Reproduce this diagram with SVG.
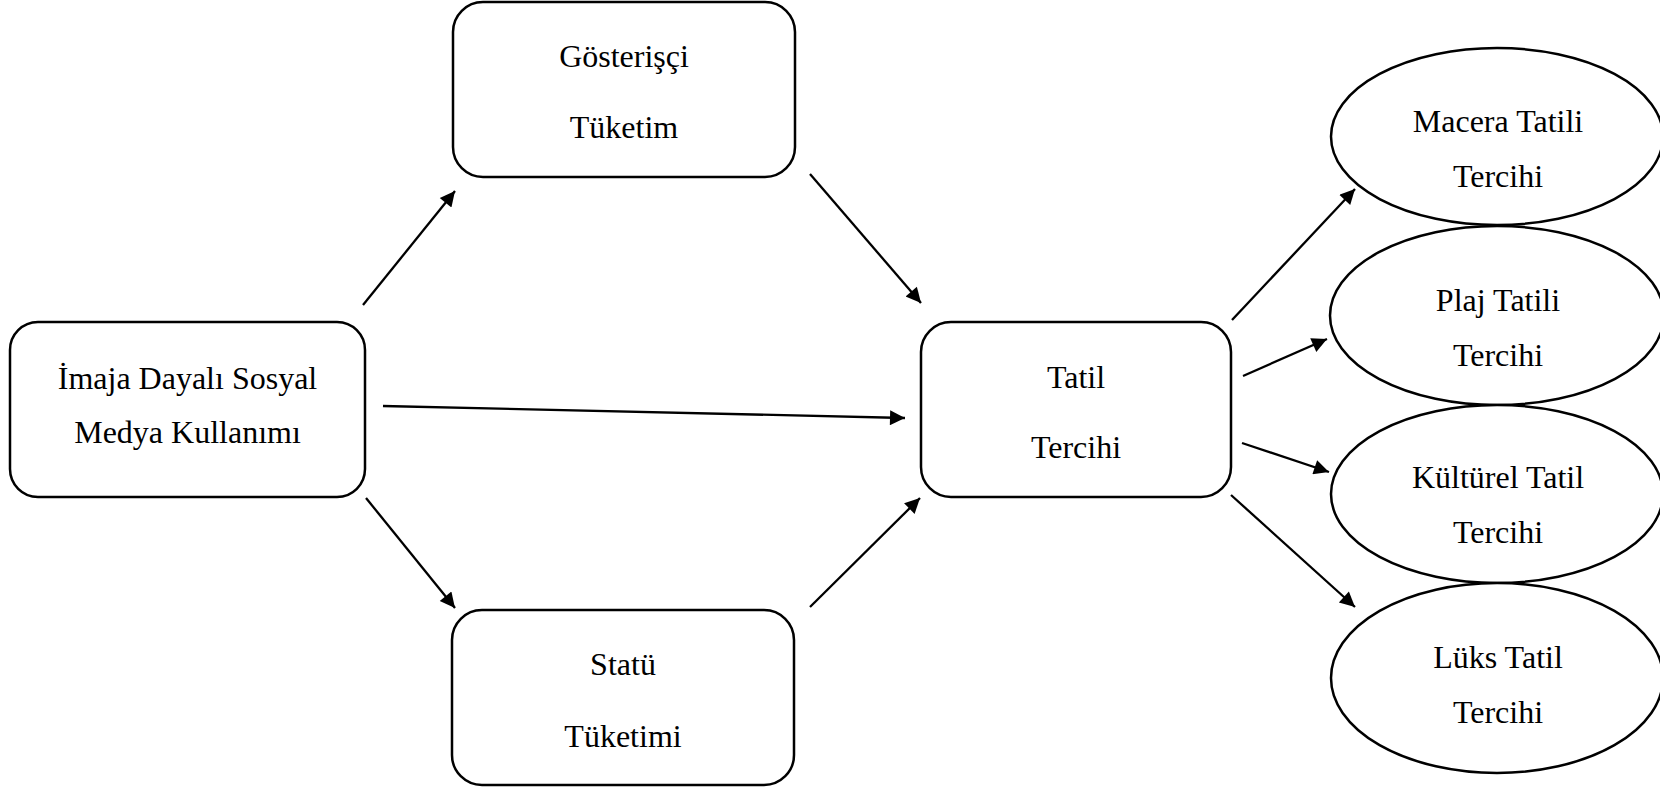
<svg xmlns="http://www.w3.org/2000/svg" width="1660" height="787" viewBox="0 0 1660 787">
  <style>
    .box { fill: #ffffff; stroke: #000000; stroke-width: 2.5; }
    .oval { fill: #ffffff; stroke: #000000; stroke-width: 2.5; }
    .lbl { font-family: "Liberation Serif", "Times New Roman", serif; font-size: 32px; fill: #000000; text-anchor: middle; }
    .edge { stroke: #000000; stroke-width: 2.3; fill: none; marker-end: url(#arrow); }
  </style>
  <defs>
    <marker id="arrow" viewBox="0 0 10 10" refX="10" refY="5" markerUnits="userSpaceOnUse" markerWidth="18" markerHeight="15" orient="auto">
      <path d="M0,0 L10,5 L0,10 Z" fill="#000000"/>
    </marker>
  </defs>
  <rect width="1660" height="787" fill="#ffffff"/>

  <!-- connectors -->
  <g id="connectors">
    <line class="edge" x1="363" y1="305" x2="455" y2="191"/>
    <line class="edge" x1="810" y1="174" x2="921" y2="303"/>
    <line class="edge" x1="383" y1="406" x2="905" y2="418"/>
    <line class="edge" x1="366" y1="498" x2="455" y2="608"/>
    <line class="edge" x1="810" y1="607" x2="920" y2="498"/>
    <line class="edge" x1="1232" y1="320" x2="1355" y2="189"/>
    <line class="edge" x1="1243" y1="376" x2="1327" y2="339"/>
    <line class="edge" x1="1242" y1="443" x2="1329" y2="472"/>
    <line class="edge" x1="1231" y1="495" x2="1355" y2="607"/>
  </g>

  <!-- source construct -->
  <g id="node-imaja">
    <rect class="box" x="10" y="322" width="355" height="175" rx="28" ry="28"/>
    <text class="lbl" x="187.5" y="389">İmaja Dayalı Sosyal</text>
    <text class="lbl" x="187.5" y="443">Medya Kullanımı</text>
  </g>

  <!-- mediators -->
  <g id="node-gosterisci">
    <rect class="box" x="453" y="2" width="342" height="175" rx="30" ry="30"/>
    <text class="lbl" x="624" y="67">Gösterişçi</text>
    <text class="lbl" x="624" y="138">Tüketim</text>
  </g>
  <g id="node-statu">
    <rect class="box" x="452" y="610" width="342" height="175" rx="30" ry="30"/>
    <text class="lbl" x="623" y="675">Statü</text>
    <text class="lbl" x="623" y="747">Tüketimi</text>
  </g>

  <!-- central outcome -->
  <g id="node-tatil">
    <rect class="box" x="921" y="322" width="310" height="175" rx="30" ry="30"/>
    <text class="lbl" x="1076" y="388">Tatil</text>
    <text class="lbl" x="1076" y="458">Tercihi</text>
  </g>

  <!-- holiday types -->
  <g id="node-macera">
    <ellipse class="oval" cx="1497" cy="136.5" rx="166" ry="88.5"/>
    <text class="lbl" x="1498" y="132">Macera Tatili</text>
    <text class="lbl" x="1498" y="187">Tercihi</text>
  </g>
  <g id="node-plaj">
    <ellipse class="oval" cx="1497" cy="315.5" rx="167" ry="89.5"/>
    <text class="lbl" x="1498" y="311">Plaj Tatili</text>
    <text class="lbl" x="1498" y="366">Tercihi</text>
  </g>
  <g id="node-kulturel">
    <ellipse class="oval" cx="1497" cy="494" rx="166" ry="89"/>
    <text class="lbl" x="1498" y="488">Kültürel Tatil</text>
    <text class="lbl" x="1498" y="543">Tercihi</text>
  </g>
  <g id="node-luks">
    <ellipse class="oval" cx="1497" cy="678" rx="166" ry="95"/>
    <text class="lbl" x="1498" y="668">Lüks Tatil</text>
    <text class="lbl" x="1498" y="723">Tercihi</text>
  </g>
</svg>
